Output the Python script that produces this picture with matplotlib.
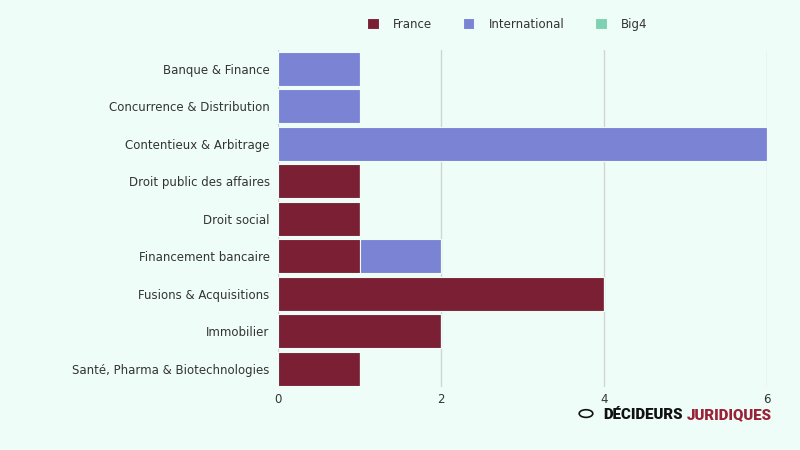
import matplotlib
matplotlib.use("Agg")
import matplotlib.pyplot as plt
import numpy as np

categories = ["Banque & Finance", "Concurrence & Distribution", "Contentieux & Arbitrage",
              "Droit public des affaires", "Droit social", "Financement bancaire",
              "Fusions & Acquisitions", "Immobilier", "Santé, Pharma & Biotechnologies"]
france = [0, 0, 0, 1, 1, 1, 4, 2, 1]
international = [1, 1, 6, 0, 0, 1, 0, 0, 0]
big4 = [0, 0, 0, 0, 0, 0, 0, 0, 0]
series_names = ["France", "International", "Big4"]
xticks = [0, 2, 4, 6]

BG = "#effdf9"
colors = ["#7b1f35", "#7b84d4", "#7fd1b3"]
TXT = "#333333"

plt.rcParams['font.family'] = ['DejaVu Sans']

fig = plt.figure(figsize=(8, 4.5), dpi=100, facecolor=BG)
ax = fig.add_axes([0.3475, 0.139, 0.6115, 0.75])
ax.set_facecolor(BG)

y = np.arange(len(categories))
left = np.zeros(len(categories))
for name, vals, c in zip(series_names, [france, international, big4], colors):
    vals = np.array(vals, dtype=float)
    ax.barh(y, vals, left=left, height=0.907, color=c, edgecolor=BG,
            linewidth=0.8, label=name, zorder=3)
    left += vals

ax.set_ylim(len(categories) - 0.5, -0.5)
ax.set_xlim(0, 6)
ax.set_yticks(y)
ax.set_yticklabels(categories, fontsize=8.5, color=TXT)
ax.set_xticks(xticks)
ax.set_xticklabels([str(t) for t in xticks], fontsize=8.5, color=TXT)
ax.tick_params(axis='both', length=0)
ax.tick_params(axis='y', pad=6)
ax.tick_params(axis='x', pad=4)
for s in ax.spines.values():
    s.set_visible(False)
ax.grid(axis='x', color="#cdd6d4", linewidth=1, zorder=0)
ax.set_axisbelow(True)

leg = fig.legend(loc='center', bbox_to_anchor=(0.634, 0.946), ncol=3, frameon=False,
                 fontsize=8.5, handlelength=1.0, handleheight=1.0, columnspacing=2.6,
                 handletextpad=1.2)
for t in leg.get_texts():
    t.set_color(TXT)

# logo
fig.text(0.854, 0.069, "DÉCIDEURS", fontsize=10.8, fontweight='heavy', color="#111111",
         family=['Roboto', 'DejaVu Sans'], va='baseline', ha='right')
fig.text(0.859, 0.069, "JURIDIQUES", fontsize=10.8, fontweight='heavy', color="#9a2237",
         family=['Roboto', 'DejaVu Sans'], va='baseline', ha='left')
fig.patches.append(matplotlib.patches.Circle((0.7325, 0.081), 0.0085, transform=fig.transFigure,
                                             facecolor='none', edgecolor="#111111", linewidth=1.2,
                                             figure=fig))

fig.savefig("out.png", dpi=100, facecolor=BG)
